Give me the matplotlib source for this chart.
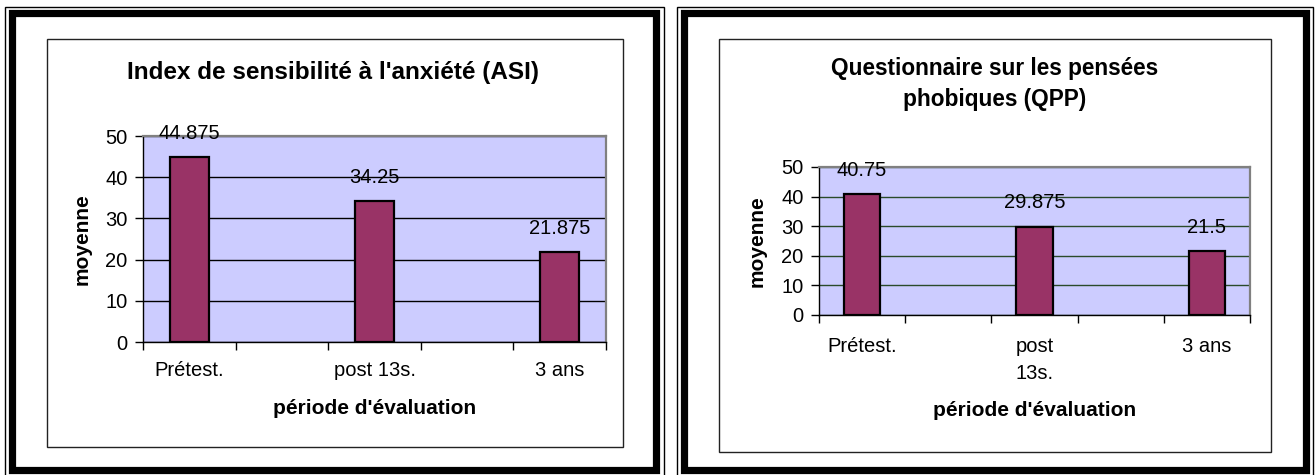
import numpy as np
import matplotlib
matplotlib.use('Agg')
from matplotlib import pyplot as plt
from matplotlib.patches import Rectangle

plt.rcParams['font.family'] = ['Liberation Sans', 'DejaVu Sans']

# data
categories = ['Prétest.', '', 'post 13s.', '', '3 ans']
asi_values = [44.875, None, 34.25, None, 21.875]
qpp_values = [40.75, None, 29.875, None, 21.5]
qpp_labels = ['Prétest.', '', 'post\n13s.', '', '3 ans']
titles = ["Index de sensibilité à l'anxiété (ASI)",
          "Questionnaire sur les pensées\nphobiques (QPP)"]
yticks = [0, 10, 20, 30, 40, 50]

W, H = 1316, 475
fig = plt.figure(figsize=(W / 100, H / 100), dpi=100)

def fx(x):
    return x / W

def fy(y):
    return 1 - y / H

def rect(x0, y0, x1, y1, lw, color='black'):
    fig.patches.append(Rectangle((fx(x0), fy(y1)), fx(x1) - fx(x0), fy(y0) - fy(y1),
                                 transform=fig.transFigure, fill=False,
                                 lw=lw, edgecolor=color, zorder=5))

# double frames
rect(5, 6.5, 663.5, 478, 1.0)
rect(11.5, 13.5, 655.5, 469.5, 5.2)
rect(676.5, 6.5, 1312.5, 478, 1.0)
rect(683.5, 13.5, 1306, 469.5, 5.2)
# inner chart boxes
rect(46.5, 38.5, 623, 446.5, 1.0, '#222222')
rect(719.5, 38.5, 1270.5, 451.5, 1.0, '#222222')

TICK_FS = 14.5
LAB_FS = 15

def draw(box, values, labels, title, title_xy, title_fs, grid_color, xlab_y, ylab_x, tpad):
    x0, y0, x1, y1 = box
    ax = fig.add_axes([fx(x0), fy(y1), fx(x1) - fx(x0), fy(y0) - fy(y1)])
    ax.set_facecolor('#CCCCFF')
    pos = np.arange(len(labels))
    xs = [p for p, v in zip(pos, values) if v is not None]
    vs = [v for v in values if v is not None]
    bars = ax.bar(xs, vs, width=0.42, color='#993366', edgecolor='black',
                  lw=1.6, zorder=3)
    for b, v in zip(bars, vs):
        ax.annotate(f'{v:g}', (b.get_x() + b.get_width() / 2, v),
                    xytext=(0, 17), textcoords='offset points',
                    ha='center', va='center', fontsize=TICK_FS)
    ax.set_xlim(-0.5, len(labels) - 0.5)
    ax.set_ylim(0, 50)
    ax.set_yticks(yticks)
    ax.yaxis.grid(True, color=grid_color, lw=1.0)
    ax.set_axisbelow(True)
    ax.set_xticks(np.arange(-0.5, len(labels), 1.0))
    ax.set_xticklabels([])
    ax.set_xticks(xs, minor=True)
    ax.set_xticklabels([labels[int(p)] for p in xs], minor=True, fontsize=TICK_FS,
                       linespacing=1.55)
    ax.tick_params(axis='x', which='major', length=6, width=1, direction='out')
    ax.tick_params(axis='x', which='minor', length=0, pad=tpad)
    ax.tick_params(axis='y', length=6, width=1, pad=5, labelsize=TICK_FS)
    for s in ['top', 'right']:
        ax.spines[s].set_color('#808080')
        ax.spines[s].set_linewidth(1.6)
    for s in ['left', 'bottom']:
        ax.spines[s].set_color('black')
        ax.spines[s].set_linewidth(1.0)
    ax.set_ylabel('moyenne', fontsize=LAB_FS, fontweight='bold')
    ax.yaxis.set_label_coords((ylab_x - x0) / (x1 - x0), 0.5)
    ax.set_xlabel("période d'évaluation", fontsize=LAB_FS, fontweight='bold')
    ax.xaxis.set_label_coords(0.5, (y1 - xlab_y) / (y1 - y0))
    ax.xaxis.label.set_va('center')
    ax.yaxis.label.set_va('center')
    fig.text(fx(title_xy[0]), fy(title_xy[1]), title, ha='center', va='center',
             fontsize=title_fs, fontweight='bold', linespacing=1.45)
    return ax

draw((143, 136, 606, 342), asi_values, categories, titles[0], (333, 72), 17.5,
     'black', 408, 82, 14)
draw((819, 167, 1250, 315), qpp_values, qpp_labels, titles[1], (995, 84), 16.3,
     '#2a4a2a', 410, 757, 16)

fig.savefig('out.png', dpi=100, facecolor='white')
